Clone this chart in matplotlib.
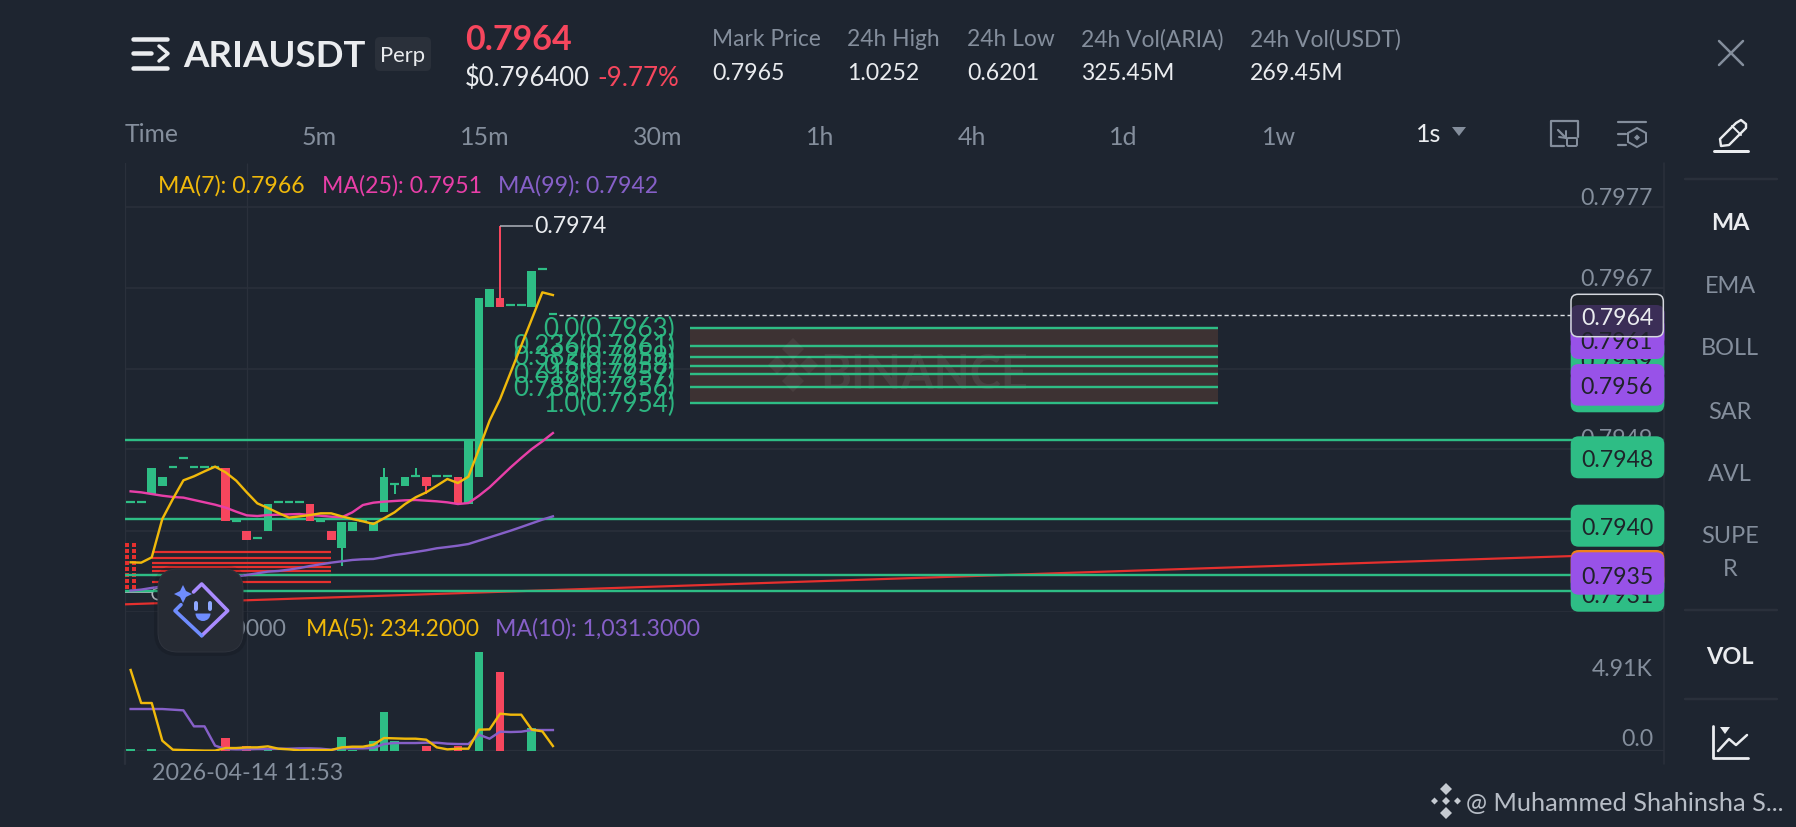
import matplotlib
matplotlib.use("Agg")
import matplotlib.pyplot as plt
from matplotlib.patches import FancyBboxPatch, Polygon, Rectangle, Wedge

plt.rcParams['font.family'] = ['Lato', 'DejaVu Sans']

# ---------- data ----------
opens = [.794170,.794170,.794269,.794368,.794595,.794702,.794595,.794595,.794595,.794579,.793952,.793829,.793741,
         .793833,.794170,.794170,.794170,.794154,.793952,.793829,.793622,.793833,.793952,.793833,.794051,.794388,
         .794368,.794487,.794476,.794487,.794487,.794476,.794154,.794476,.796499,.796602,.796519,.796519,.796499,
         .796944,.796412]
closes = [.794170,.794170,.794579,.794476,.794595,.794702,.794595,.794595,.794595,.793944,.793952,.793726,.793741,
          .794154,.794170,.794170,.794170,.793944,.793952,.793726,.793940,.793940,.793952,.793940,.794476,.794388,
          .794476,.794487,.794368,.794487,.794487,.794154,.794904,.796602,.796709,.796499,.796519,.796519,.796924,
          .796944,.796412]
highs = [.794170,.794170,.794579,.794476,.794595,.794702,.794595,.794595,.794595,.794579,.793952,.793829,.793741,
         .794154,.794170,.794170,.794170,.794154,.793952,.793829,.793940,.793940,.793952,.793940,.794579,.794388,
         .794476,.794579,.794476,.794487,.794487,.794476,.794904,.796602,.796709,.797463,.796519,.796519,.796924,
         .796944,.796412]
lows = [.794170,.794170,.794269,.794368,.794595,.794702,.794595,.794595,.794595,.793944,.793952,.793726,.793741,
        .793833,.794170,.794170,.794170,.793944,.793952,.793726,.793416,.793833,.793952,.793833,.794051,.794269,
        .794368,.794487,.794269,.794487,.794487,.794154,.794154,.794476,.796499,.796499,.796519,.796519,.796499,
        .796944,.796412]
ma7 = [.793456,.793452,.793515,.793972,.794210,.794432,.794480,.794539,.794595,.794527,.794428,.794289,.794158,
       .794103,.794043,.793988,.794003,.794019,.794039,.794039,.794003,.793972,.793944,.793912,.793980,.794051,
       .794150,.794230,.794289,.794368,.794448,.794400,.794476,.794805,.795142,.795400,.795718,.796035,.796352,
       .796670,.796638]
ma25 = [.794301,.794289,.794269,.794249,.794234,.794226,.794198,.794170,.794142,.794107,.794059,.794015,.794007,
        .794019,.794023,.794027,.794031,.794019,.794011,.793999,.793992,.794051,.794138,.794166,.794178,.794186,
        .794194,.794198,.794190,.794182,.794170,.794150,.794162,.794249,.794349,.794468,.794587,.794698,.794805,
        .794896,.794995]
ma99 = [.793119,.793131,.793151,.793170,.793186,.793202,.793218,.793234,.793250,.793265,.793285,.793305,.793325,
        .793345,.793353,.793369,.793388,.793412,.793432,.793452,.793468,.793484,.793492,.793496,.793519,.793543,
        .793559,.793579,.793599,.793623,.793638,.793654,.793674,.793714,.793753,.793793,.793833,.793876,.793920,
        .793964,.794003]
volumes = [110,0,110,0,0,0,0,0,0,833,0,338,0,110,0,0,0,0,0,0,900,60,0,675,2590,675,0,0,315,0,0,338,0,6688,0,5290,0,0,1510,0,0]
vol_ma5 = [5445,3218,3218,675,68,45,23,5,5,180,180,225,225,293,135,90,23,45,45,45,225,270,270,405,855,833,810,810,743,
           225,90,135,135,1418,1440,2498,2430,2430,1418,1305,315]
vol_ma10 = [2813,2813,2813,2813,2768,2723,1643,1643,338,113,90,90,113,113,135,135,158,158,135,68,158,158,158,180,450,
            518,518,518,540,540,473,450,450,1080,810,1283,1260,1283,1395,1395,1395]

grid_prices = [.797682,.796718,.795757,.794805,.793832,.792868]
grid_labels = ['0.7977','0.7967','0.7958','0.7949','0.7940','0.7931']
level_prices = [.794915,.793971,.793305,.793114]
fib_ratios = ['0.0','0.236','0.382','0.5','0.618','0.786','1.0']
fib_values = ['0.7963','0.7961','0.7959','0.7958','0.7957','0.7956','0.7954']
fib_prices = [.796245,.796035,.795904,.795796,.795694,.795543,.795352]
fib_start, fib_end = 53, 103
red_levels = [.793583,.793503,.793448,.793400,.793357,.793305,.793226]
red_start, red_end = 2, 19
trend_x = [-0.5, 145.25]
trend_y = [.792956, .793567]
last_price = .7964
high_index, high_price = 35, .797463
tabs = ['5m','15m','30m','1h','4h','1d','1w']
tab_px = [319,485,657.5,820.6,972,1123.5,1278.6]
stats = ['Mark Price','24h High','24h Low','24h Vol(ARIA)','24h Vol(USDT)']
stat_vals = ['0.7965','1.0252','0.6201','325.45M','269.45M']
stat_px = [712,847,967,1081,1250]
side_items = ['EMA','BOLL','SAR','AVL','SUPE','R']
side_py = [285,347,410.7,473,535,568]

# ---------- style ----------
BG='#1E2530'; GRID='#2A303B'; GREEN='#2EBD85'; RED='#F6465D'; GRAY='#848E9C'; WHITE='#EAECEF'
YEL='#F0B90B'; PINK='#E83FA8'; PUR='#8660C8'; BOX='#9852E8'; LINE_RED='#E5302E'
W,H=1796,828
fig=plt.figure(figsize=(W/100,H/100),dpi=100,facecolor=BG)
px=0.72
DY=1.5

def axes_px(l,t,r,b,**kw):
    return fig.add_axes([l/W,1-b/H,(r-l)/W,(b-t)/H],**kw)

ax=axes_px(125.3,164,1664,612.7,facecolor='none',zorder=1)
ax.set_xlim(-0.505,145.25); ax.set_ylim(.792868,.798210); ax.axis('off')
vax=axes_px(125.3,613,1664,751.7,facecolor='none',zorder=1)
vax.set_xlim(-0.505,145.25); vax.set_ylim(0,9360); vax.axis('off')
ov=fig.add_axes([0,0,1,1],facecolor='none',zorder=3)
ov.set_xlim(0,W); ov.set_ylim(H,0); ov.axis('off')

# price pane
ax.hlines(grid_prices,-0.505,145.25,color=GRID,lw=1.6*px,zorder=1)
ax.vlines(11,.792868,.798210,color=GRID,lw=1.3*px,zorder=1)
vax.vlines(11,0,9360,color=GRID,lw=1.3*px,zorder=1)
vax.hlines(0,-0.505,145.25,color=GRID,lw=2.2*px,zorder=1)
ax.vlines(-0.505,.792868,.798210,color=GRID,lw=2.2*px,zorder=1)
vax.vlines(-0.505,0,9360,color=GRID,lw=2.2*px,zorder=1)

ax.add_patch(Rectangle((fib_start,fib_prices[-1]),fib_end-fib_start,fib_prices[0]-fib_prices[-1],fc='#3D3233',ec='none',zorder=1.5))
ax.text(75.2,.7957,'BINANCE',color='#ffffff',alpha=0.07,fontsize=47*px,fontweight='bold',ha='center',va='center',zorder=1.6)
# watermark logo, hollow diamond
ax_logo_centre=(793,366)
for (cx,cy,s) in [(793,350,11),(793,382,11),(777,366,9),(809,366,9),(793,366,6)]:
    ov.add_patch(Polygon([(cx,cy-s),(cx+s,cy),(cx,cy+s),(cx-s,cy)],closed=True,fc='#ffffff',alpha=0.06,ec='none',zorder=1))

ax.hlines(fib_prices,fib_start,fib_end,color=GREEN,lw=2.4*px,zorder=2)
for r,v,p in zip(fib_ratios,fib_values,fib_prices):
    ax.text(51.6,p,f'{r}({v})',color=GREEN,fontsize=26*px,ha='right',va='center',alpha=0.95,zorder=2.2)

ax.hlines(red_levels,red_start,red_end,color=LINE_RED,lw=2.2*px,zorder=2)
ax.vlines([-0.35,0.35],.793138,.793686,color=LINE_RED,lw=4*px,linestyles=(0,(1,0.5)),zorder=2)
ax.hlines(.793099,-0.505,2.1,color='#B0B6BE',lw=1.8*px,zorder=2)
ax.scatter([2.6],[.79308],s=70,facecolors='none',edgecolors='#B0B6BE',lw=1.2,zorder=2)
ax.plot(trend_x,trend_y,color=LINE_RED,lw=2.2*px,zorder=2)
ax.hlines(level_prices,-0.505,145.25,color=GREEN,lw=2.4*px,zorder=2.5)
ax.hlines(last_price,40.6,137,color='#DDE1E6',lw=1.4*px,linestyles=(0,(3,2)),zorder=2.5)

for i,(o,c,h,l) in enumerate(zip(opens,closes,highs,lows)):
    col=GREEN if c>=o else RED
    if h>l:
        ax.vlines(i,l,h,color=col,lw=2*px,zorder=3)
    if o==c:
        ax.hlines(o,i-0.41,i+0.41,color=col,lw=2.2*px,zorder=3)
    else:
        ax.bar(i,abs(c-o),bottom=min(o,c),width=0.82,color=col,zorder=3)
ax.hlines(high_price,high_index,38.1,color='#A8ADB5',lw=1.6*px,zorder=3)
ax.text(38.2,high_price,'0.7974',color=WHITE,fontsize=23*px,ha='left',va='center',zorder=3)

xs=list(range(len(ma7)))
ax.plot(xs,ma99,color=PUR,lw=2.4*px,zorder=4)
ax.plot(xs,ma25,color=PINK,lw=2.4*px,zorder=4)
ax.plot(xs,ma7,color=YEL,lw=2.4*px,zorder=4)

# volume pane
vcols=[GREEN if c>=o else RED for o,c in zip(opens,closes)]
vax.bar(xs,volumes,width=0.82,color=vcols,zorder=3)
vax.plot(xs,vol_ma10,color=PUR,lw=2.4*px,zorder=4)
vax.plot(xs,vol_ma5,color=YEL,lw=2.4*px,zorder=4)

# ---------- overlay chrome ----------
def T(x,y,s,size,color,ha='left',weight='normal',z=10,a=None):
    ov.text(x,y+DY,s,fontsize=size*px,color=color,ha=ha,va='center',fontweight=weight,zorder=z,alpha=a)
def L(xs,ys,color=WHITE,lw=2,z=10,cap='round'):
    ov.plot(xs,ys,color=color,lw=lw*px,zorder=z,solid_capstyle=cap,solid_joinstyle='round')
def B(l,t,r,b,fc,rad=8,ec='none',lw=0,z=5,a=None):
    ov.add_patch(FancyBboxPatch((l,t),r-l,b-t,boxstyle=f'round,pad=0,rounding_size={rad}',fc=fc,ec=ec,lw=lw,zorder=z,alpha=a))

# header
for y in (40,69):
    L([133,167],[y,y],lw=4.5)
L([133,151],[54,54],lw=4.5)
L([159,168,159],[47,54.5,62],lw=3.5)
T(183,55,'ARIAUSDT',36.6,WHITE,weight='bold')
B(375,38,431,72,'#2A303A',rad=5)
T(403,55,'Perp',22,WHITE,ha='center')
T(465,38,'0.7964',34,RED,weight='bold')
T(465,77,'$0.796400',25.6,WHITE)
T(597,77,'-9.77%',26,RED)
for x,s,v in zip(stat_px,stats,stat_vals):
    T(x,38,s,22.7,GRAY)
    T(x,72,v,23,WHITE)
T(125,133,'Time',24.7,GRAY)
for x,s in zip(tab_px,tabs):
    T(x,135.7,s,25,GRAY,ha='center')
T(1416,133,'1s',25,WHITE)
ov.add_patch(Polygon([(1452,128),(1466,128),(1459,137)],fc=GRAY,ec='none',zorder=10))
# icons
L([1563,1551,1551,1564],[122,122,147,147],GRAY,2.2)
L([1563,1578,1578],[122,122,138],GRAY,2.2)
L([1558,1566],[131,139],GRAY,2.2); L([1559,1566,1566],[138,139,132],GRAY,2)
ov.add_patch(FancyBboxPatch((1567,139),10,8,boxstyle='round,pad=0,rounding_size=1.5',fc='none',ec=GRAY,lw=2*px,zorder=10))
L([1618,1646],[123,123],GRAY,2.2); L([1618,1626],[135,135],GRAY,2.2); L([1618,1626],[146,146],GRAY,2.2)
ov.add_patch(Polygon([(1637,129),(1646,134),(1646,143),(1637,148),(1628,143),(1628,134)],fc='none',ec=GRAY,lw=2*px,zorder=10))
ov.add_patch(Polygon([(1637,135.5),(1640,138.5),(1637,141.5),(1634,138.5)],fc=GRAY,ec='none',zorder=10))
L([1719,1743],[42,66],'#848E9C',2.5); L([1743,1719],[42,66],'#848E9C',2.5)
# pencil
ov.add_patch(Polygon([(1721,147),(1720,140),(1736,124),(1741,121),(1746,125),(1746,129),(1729,146)],fc='none',ec=WHITE,lw=2.4*px,zorder=10,joinstyle='round'))
L([1732,1741],[127,136],WHITE,2)
L([1714,1748],[152,152],WHITE,3)
# panel separators
L([1664,1664],[164,765],GRID,1.5,z=1)
for y in (180,610.7,700):
    L([1685,1777],[y,y],GRID,2.5,z=1)
L([125.3,125.3],[751,765],GRID,2.2,z=1)
# side menu
T(1730,221.7,'MA',23.5,WHITE,ha='center',weight='bold')
for y,s in zip(side_py,side_items):
    T(1730,y,s,23.5,GRAY,ha='center')
T(1730,655.7,'VOL',23.5,WHITE,ha='center',weight='bold')
L([1713,1713,1748],[727,759,759],WHITE,2.8)
L([1718,1729,1736,1747],[752,740,746,736],WHITE,2.5)
ov.add_patch(Polygon([(1720,728),(1730,728),(1725,735)],fc=WHITE,ec='none',zorder=10))
# legends
T(158,184,'MA(7): 0.7966',23,YEL)
T(321.7,184,'MA(25): 0.7951',23,PINK)
T(498,184,'MA(99): 0.7942',23,PUR)
T(286.7,627.7,'.0000',23,GRAY,ha='right',z=6)
T(305.7,627.7,'MA(5): 234.2000',23,YEL)
T(495,627.7,'MA(10): 1,031.3000',23,PUR)
T(151.7,771.7,'2026-04-14 11:53',23.2,GRAY)
T(1653,667.7,'4.91K',23,GRAY,ha='right')
T(1653,738,'0.0',23,GRAY,ha='right')
# price tick labels, hidden partly by the tags
for g,s in zip([208.3,289.3,370,450,531.7,612.7],grid_labels):
    T(1653,g-11.6,s,23,GRAY,ha='right',z=4)
# tags
TAGL,TAGR=1570.7,1664.3
def tag(t,b,fc,s,ty,z):
    B(TAGL,t,TAGR,b,fc,rad=8,z=z)
    if s:
        T(1653,ty,s,23,'#1E2329',ha='right',z=z+0.1)
tag(340,381.7,GREEN,'0.7959',361,5)
tag(371.7,413.3,GREEN,'0.7954',392,5.2)
tag(437.3,479.3,GREEN,'0.7948',459,5.4)
tag(505.7,547.7,GREEN,'0.7940',527,5.6)
tag(571.7,612.7,GREEN,'0.7931',595,5.8)
tag(551,590,'#F0801A','',0,6.0)
tag(553.3,595.7,BOX,'0.7935',575.7,6.2)
tag(365,406.7,BOX,'0.7956',386.3,6.4)
tag(306,347.7,BOX,'',0,6.6)
tag(318.3,360,BOX,'0.7961',340.7,6.8)
B(1571,295.3,1663.3,337.7,'#1E2329',rad=7,z=7.2,a=0.76)
ov.add_patch(FancyBboxPatch((1571,295.3),92.3,42.4,boxstyle='round,pad=0,rounding_size=7',fc='none',ec='#D5D8DE',lw=1.5*px,zorder=7.3))
T(1653,317,'0.7964',23,WHITE,ha='right',z=7.5)
# floating button
B(154,566,247,657,'#000000',rad=24,z=8,a=0.12)
B(158,570,243,653,'#262B34',rad=20,z=8.1,ec='#2E333D',lw=1*px)
L([193.5,201.7,227.7,201.7],[593,585,611.7,636.7],'#A98BFF',3.6,z=8.5)
L([201.7,175,181],[636.7,611.7,605.7],'#6F8DFF',3.6,z=8.5)
ov.add_patch(Polygon([(183,586),(186,592),(192,595),(186,598),(183,604),(180,598),(174,595),(180,592)],fc='#6F8DFF',ec='none',zorder=8.5))
L([196,196],[604,610],'#8FA8FF',4,z=8.5); L([210,210],[604,610],'#8FA8FF',4,z=8.5)
ov.add_patch(Wedge((203,614.5),7.5,0,180,fc='#6F8DFF',ec='none',zorder=8.5))
# watermark
for c in [(1446,790),(1446,814),(1434.5,802),(1457.5,802)]:
    s=3.5 if c[0]!=1446 else 6
    ov.add_patch(Polygon([(c[0],c[1]-s),(c[0]+s,c[1]),(c[0],c[1]+s),(c[0]-s,c[1])],fc='#C5CAD1',ec='none',zorder=10))
ov.add_patch(Polygon([(1446,798),(1450,802),(1446,806),(1442,802)],fc='#C5CAD1',ec='none',zorder=10))
T(1465.7,801.7,'@ Muhammed Shahinsha S...',25.3,'#B7BDC6')

fig.savefig('out.png',dpi=100,facecolor=BG)
